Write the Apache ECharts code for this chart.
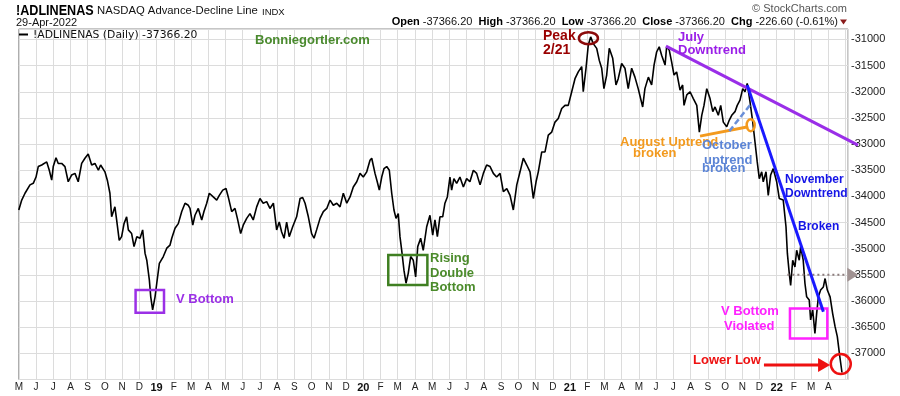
<!DOCTYPE html>
<html>
<head>
<meta charset="utf-8">
<title>NASDAQ Advance-Decline Line</title>
<script src="https://cdn.jsdelivr.net/npm/echarts@6/dist/echarts.min.js"></script>
<style>
  html, body { margin: 0; padding: 0; background: #fff; }
  #chart { width: 900px; height: 396px; }
</style>
</head>
<body>
<div id="chart"></div>
<script>
// x is in months since 1 May 2018 (0 = May 2018, 8 = Jan 2019 ...)
const startYear = 2018;
const startMonth = 4; // May, 0-based
const lastMonthLabel = 47; // Apr 2022
const monthLetters = ['J', 'F', 'M', 'A', 'M', 'J', 'J', 'A', 'S', 'O', 'N', 'D'];
const yLabelMin = -37000, yLabelMax = -31000;

// !ADLINENAS daily as [month position, value]
const adl2018 = [[0,-34260],[0.03,-34290],[0.17,-34070],[0.36,-33940],[0.46,-33910],[0.65,-33780],[0.84,-33750],[1.00,-33630],[1.13,-33430],[1.33,-33400],[1.62,-33340],[1.77,-33500],[1.91,-33690],[2.00,-33430],[2.16,-33260],[2.29,-33370],[2.49,-33370],[2.68,-33430],[2.87,-33720],[3.07,-33590],[3.26,-33560],[3.45,-33720],[3.65,-33370],[3.84,-33270],[4.03,-33190],[4.23,-33400],[4.42,-33370],[4.62,-33500],[4.75,-33400],[5.00,-33530],[5.14,-33690],[5.29,-33940],[5.39,-34390],[5.58,-34200],[5.68,-34450],[5.83,-34840],[5.97,-34770],[6.11,-34520],[6.26,-34390],[6.36,-34640],[6.55,-34710],[6.69,-34960],[6.85,-34770],[7.04,-34800],[7.19,-34640],[7.33,-35090],[7.43,-35220],[7.58,-35600],[7.66,-35920],[7.77,-36170],[7.91,-35920]];
const adl2019 = [[8.01,-35660],[8.16,-35280],[8.39,-35150],[8.59,-34990],[8.78,-34930],[8.88,-34800],[9.07,-34610],[9.26,-34520],[9.46,-34290],[9.65,-34130],[9.84,-34170],[9.94,-34230],[10.10,-34550],[10.23,-34360],[10.42,-34230],[10.62,-34450],[10.75,-34290],[10.91,-34130],[11.06,-33940],[11.29,-34010],[11.49,-34070],[11.64,-33980],[11.84,-33880],[12.03,-33850],[12.16,-34010],[12.36,-34290],[12.55,-34230],[12.69,-34420],[12.88,-34710],[13.03,-34550],[13.23,-34420],[13.42,-34330],[13.61,-34450],[13.81,-34200],[14.00,-34040],[14.19,-34130],[14.39,-34100],[14.58,-34230],[14.78,-34130],[14.97,-34640],[15.12,-34490],[15.26,-34680],[15.40,-34800],[15.55,-34490],[15.70,-34770],[15.90,-34580],[16.13,-34390],[16.33,-34040],[16.48,-34020],[16.62,-34130],[16.81,-34390],[17.00,-34710],[17.14,-34800],[17.29,-34640],[17.49,-34420],[17.68,-34290],[17.88,-34230],[18.07,-34070],[18.26,-34170],[18.46,-34130],[18.65,-34200],[18.84,-33940],[19.04,-34130],[19.23,-34010],[19.42,-33820],[19.62,-33720],[19.81,-33560]];
const adl2020 = [[20.00,-33630],[20.20,-33530],[20.39,-33310],[20.49,-33270],[20.68,-33560],[20.81,-33720],[20.93,-33880],[21.07,-33630],[21.20,-33470],[21.36,-33430],[21.51,-33500],[21.65,-33940],[21.78,-34260],[21.90,-34420],[22.03,-34330],[22.13,-34770],[22.23,-35030],[22.36,-35410],[22.48,-35660],[22.61,-35470],[22.75,-35150],[22.90,-35220],[23.04,-35540],[23.16,-34960],[23.33,-34800],[23.48,-35030],[23.68,-34580],[23.87,-34360],[24.03,-34740],[24.16,-34450],[24.30,-34770],[24.45,-34390],[24.61,-34390],[24.74,-34130],[24.88,-34010],[25.03,-33630],[25.13,-33880],[25.26,-33660],[25.42,-33750],[25.61,-33630],[25.81,-33820],[26.00,-33660],[26.19,-33720],[26.39,-33500],[26.58,-33560],[26.78,-33780],[26.97,-33560],[27.16,-33400],[27.36,-33430],[27.55,-33560],[27.74,-33630],[27.94,-33560],[28.13,-33910],[28.33,-33850],[28.52,-33980],[28.71,-34260],[28.91,-33780],[29.10,-33530],[29.29,-33270],[29.49,-33400],[29.68,-33530],[29.87,-34040],[30.03,-33720],[30.16,-33530],[30.36,-33150],[30.55,-33150],[30.74,-32830],[30.94,-32770],[31.13,-32580],[31.32,-32510],[31.52,-32320],[31.71,-32260],[31.90,-32260]];
const adl2021 = [[32.10,-32000],[32.29,-31750],[32.48,-31620],[32.68,-31520],[32.77,-32000],[32.93,-31550],[33.06,-31110],[33.20,-30950],[33.35,-31080],[33.55,-31170],[33.70,-31400],[33.84,-31550],[33.97,-31940],[34.13,-31680],[34.28,-31170],[34.48,-31360],[34.67,-31870],[34.80,-31750],[35.00,-31460],[35.19,-31550],[35.38,-31940],[35.58,-31550],[35.77,-31720],[35.96,-31940],[36.22,-32290],[36.35,-31940],[36.55,-31720],[36.74,-31870],[36.88,-31490],[37.03,-31240],[37.18,-31140],[37.32,-31300],[37.52,-31490],[37.61,-31140],[37.76,-31200],[37.90,-31430],[38.04,-31680],[38.19,-31620],[38.39,-31970],[38.54,-31870],[38.62,-32260],[38.78,-32060],[38.97,-32000],[39.16,-32130],[39.36,-32260],[39.51,-32770],[39.65,-32450],[39.78,-32260],[39.94,-31940],[40.13,-32130],[40.29,-32380],[40.42,-32290],[40.61,-32450],[40.75,-32260],[40.90,-32580],[41.10,-32670],[41.25,-32540],[41.39,-32450],[41.58,-32380],[41.71,-32260],[41.87,-32160],[42.03,-31940],[42.16,-32000],[42.29,-31840],[42.45,-32190],[42.61,-32580],[42.74,-32960],[42.87,-33340],[42.99,-33660],[43.13,-33530],[43.22,-33720],[43.38,-33530],[43.51,-33980],[43.65,-33590],[43.80,-33470]];
const adl2022 = [[44.00,-33720],[44.15,-34040],[44.38,-34070],[44.54,-34580],[44.62,-35090],[44.73,-35470],[44.81,-35700],[44.93,-35220],[45.06,-35350],[45.16,-35030],[45.31,-35220],[45.39,-34960],[45.54,-35220],[45.64,-35660],[45.74,-35920],[45.89,-35980],[45.97,-36360],[46.09,-36170],[46.22,-36620],[46.32,-36240],[46.42,-35920],[46.55,-35790],[46.71,-35730],[46.81,-35570],[46.94,-35790],[47.10,-35920],[47.25,-36240],[47.39,-36490],[47.52,-36680],[47.64,-37000],[47.79,-37366.2]];

// annotation anchors, same units as the data
const vBottomBox = [[6.78, -35790], [8.43, -36225]];
const doubleBottomBox = [[21.45, -35122], [23.72, -35695]];
const violatedBox = [[44.77, -36141], [46.94, -36714]];
const julyTrend = [[37.57, -31128], [48.72, -33020]];
const novTrend = [[42.29, -31873], [46.71, -36206]];
const augTrend = [[39.55, -32848], [42.35, -32670]];
const octTrend = [[41.25, -32752], [42.45, -32256]];
const augEnd = [42.49, -32638];
const peakPoint = [33.07, -30975];
const lowPoint = [47.72, -37205];
const lowArrow = [[43.26, -37224], [47.10, -37224]];
const markerLevel = [[44.62, -35500], [48.1, -35500]];

const chart = echarts.init(document.getElementById('chart'));

const option = {
    animation: false,
    backgroundColor: '#fff',
    textStyle: { fontFamily: 'Liberation Sans, Arial, sans-serif' },
    grid: { left: 18.8, right: 52, top: 29, bottom: 16.5, show: true, borderColor: '#8c8c8c', borderWidth: 1 },
    xAxis: {
        type: 'value',
        min: 0,
        max: 48.14,
        interval: 1,
        axisLine: { show: false },
        axisTick: { show: false },
        splitLine: { show: true, lineStyle: { color: '#dcdcdc', width: 1 } },
        axisLabel: {
            color: '#222',
            fontSize: 10,
            margin: 3,
            formatter: function (val) {
                if (Math.abs(val - Math.round(val)) > 1e-6 || val > lastMonthLabel + 0.5) return '';
                const k = startMonth + Math.round(val);
                const mi = k % 12;
                if (mi === 0) return '{y|' + String((startYear + k / 12) % 100).padStart(2, '0') + '}';
                return monthLetters[mi];
            },
            rich: { y: { fontWeight: 'bold', fontSize: 11, color: '#111' } }
        }
    },
    yAxis: {
        type: 'value',
        position: 'right',
        min: -37500,
        max: -30800,
        interval: 500,
        axisLine: { show: false },
        axisTick: { show: false },
        splitLine: { show: true, lineStyle: { color: '#dcdcdc', width: 1 } },
        axisLabel: {
            color: '#222',
            fontSize: 11,
            margin: 3,
            formatter: function (v) {
                if (v % 500 !== 0 || v < yLabelMin || v > yLabelMax) return '';
                return String(v);
            }
        }
    },
    series: [{
        name: '!ADLINENAS',
        type: 'line',
        showSymbol: false,
        data: adl2018.concat(adl2019, adl2020, adl2021, adl2022),
        lineStyle: { color: '#000', width: 1.6 },
        z: 3
    }]
};
chart.setOption(option);

const px = p => chart.convertToPixel({ gridIndex: 0 }, p);

function box(pair, color) {
    const a = px(pair[0]), b = px(pair[1]);
    return {
        type: 'rect', z: 10,
        shape: { x: Math.min(a[0], b[0]), y: Math.min(a[1], b[1]), width: Math.abs(b[0] - a[0]), height: Math.abs(b[1] - a[1]) },
        style: { fill: 'none', stroke: color, lineWidth: 2.5 }
    };
}
function seg(pair, color, width, dash) {
    const a = px(pair[0]), b = px(pair[1]);
    return {
        type: 'line', z: 10,
        shape: { x1: a[0], y1: a[1], x2: b[0], y2: b[1] },
        style: { stroke: color, lineWidth: width, lineDash: dash || null }
    };
}
function ring(p, rx, ry, color, width) {
    const c = px(p);
    return {
        type: 'ellipse', z: 10,
        shape: { cx: c[0], cy: c[1], rx: rx, ry: ry },
        style: { fill: 'none', stroke: color, lineWidth: width }
    };
}
function label(text, x, y, color, size) {
    return {
        type: 'text', z: 11, x: x, y: y,
        style: { text: text, fill: color, font: 'bold ' + size + 'px "Liberation Sans", Arial, sans-serif', align: 'left', verticalAlign: 'middle' }
    };
}

const arrowA = px(lowArrow[0]), arrowB = px(lowArrow[1]);
const lvlA = px(markerLevel[0]), lvlB = px(markerLevel[1]);

const graphics = [
    // header
    { type: 'text', x: 16, y: 11, scaleX: 0.84, style: { text: '!ADLINENAS', fill: '#000', font: 'bold 15px "Liberation Sans", Arial', verticalAlign: 'middle' } },
    { type: 'text', x: 97, y: 11, style: { text: 'NASDAQ Advance-Decline Line', fill: '#111', font: '11.3px "Liberation Sans", Arial', verticalAlign: 'middle' } },
    { type: 'text', x: 262, y: 12, style: { text: 'INDX', fill: '#111', font: '9.5px "Liberation Sans", Arial', verticalAlign: 'middle' } },
    { type: 'text', x: 16, y: 22.5, style: { text: '29-Apr-2022', fill: '#111', font: '11px "Liberation Sans", Arial', verticalAlign: 'middle' } },
    { type: 'text', x: 847, y: 9, style: { text: '\u00a9 StockCharts.com', fill: '#555', font: '11px "Liberation Sans", Arial', align: 'right', verticalAlign: 'middle' } },
    {
        type: 'text', x: 838, y: 22,
        style: {
            text: '{b|Open} -37366.20  {b|High} -37366.20  {b|Low} -37366.20  {b|Close} -37366.20  {b|Chg} -226.60 (-0.61%)',
            fill: '#111', font: '11px "Liberation Sans", Arial', align: 'right', verticalAlign: 'middle',
            rich: { b: { fontWeight: 'bold', fontSize: 11, fill: '#000' } }
        }
    },
    { type: 'polygon', shape: { points: [[840, 19.5], [847, 19.5], [843.5, 24.5]] }, style: { fill: '#8b1c1c' } },
    // legend inside the plot
    { type: 'line', z: 11, shape: { x1: 19, y1: 34.5, x2: 28, y2: 34.5 }, style: { stroke: '#000', lineWidth: 2 } },
    { type: 'text', z: 11, x: 33, y: 35, style: { text: '!ADLINENAS (Daily) -37366.20', fill: '#111', font: '10.8px "DejaVu Sans", Verdana, sans-serif', verticalAlign: 'middle' } },
    label('Bonniegortler.com', 255, 40.5, '#4a8a2e', 13),

    // boxes
    box(vBottomBox, '#9b30e6'),
    label('V Bottom', 176, 299.5, '#9b30e6', 13),
    box(doubleBottomBox, '#3f7f22'),
    label('Rising', 430, 258.5, '#4b8b2b', 13),
    label('Double', 430, 273, '#4b8b2b', 13),
    label('Bottom', 430, 287.5, '#4b8b2b', 13),
    box(violatedBox, '#ff22ff'),
    label('V Bottom', 721, 311.5, '#ff22ff', 13),
    label('Violated', 724, 326.5, '#ff22ff', 13),

    // peak
    ring(peakPoint, 9.5, 6, '#8b0a0a', 2.5),
    label('Peak', 543, 36, '#990000', 14),
    label('2/21', 543, 50, '#990000', 14),

    // trend lines
    seg(julyTrend, '#9a2ee8', 3),
    label('July', 678, 37, '#9a1ee8', 13),
    label('Downtrend', 678, 50.5, '#9a1ee8', 13),
    seg(augTrend, '#f39a1e', 3),
    ring(augEnd, 4, 6, '#f39a1e', 2.5),
    seg(octTrend, '#6a8fd8', 2.5, [6, 3]),
    label('August Uptrend', 620, 142, '#f39a1e', 13),
    label('broken', 633, 153, '#f39a1e', 13),
    label('October', 702, 145, '#5b84d6', 13),
    label('uptrend', 704, 160, '#5b84d6', 13),
    label('broken', 702, 168, '#5b84d6', 13),
    seg(novTrend, '#1a1aff', 3),
    label('November', 785, 180, '#1414e6', 12),
    label('Downtrend', 785, 193.5, '#1414e6', 12),
    label('Broken', 798, 227, '#1414e6', 12),

    // price marker level
    { type: 'line', z: 9, shape: { x1: lvlA[0], y1: lvlA[1], x2: lvlB[0], y2: lvlB[1] }, style: { stroke: '#8c7c7c', lineWidth: 2, lineDash: [2, 3] } },
    { type: 'polygon', z: 9, shape: { points: [[lvlB[0], lvlB[1] - 7], [lvlB[0] + 11, lvlB[1]], [lvlB[0], lvlB[1] + 7]] }, style: { fill: '#a09292' } },

    // lower low
    ring(lowPoint, 10, 10, '#ee1111', 2.5),
    { type: 'line', z: 10, shape: { x1: arrowA[0], y1: arrowA[1], x2: arrowB[0] - 11, y2: arrowB[1] }, style: { stroke: '#ee1111', lineWidth: 3 } },
    { type: 'polygon', z: 10, shape: { points: [[arrowB[0] - 12, arrowB[1] - 7], [arrowB[0], arrowB[1]], [arrowB[0] - 12, arrowB[1] + 7]] }, style: { fill: '#ee1111' } },
    label('Lower Low', 693, 360, '#ee1111', 13)
];

chart.setOption({ graphic: graphics });
</script>
</body>
</html>
